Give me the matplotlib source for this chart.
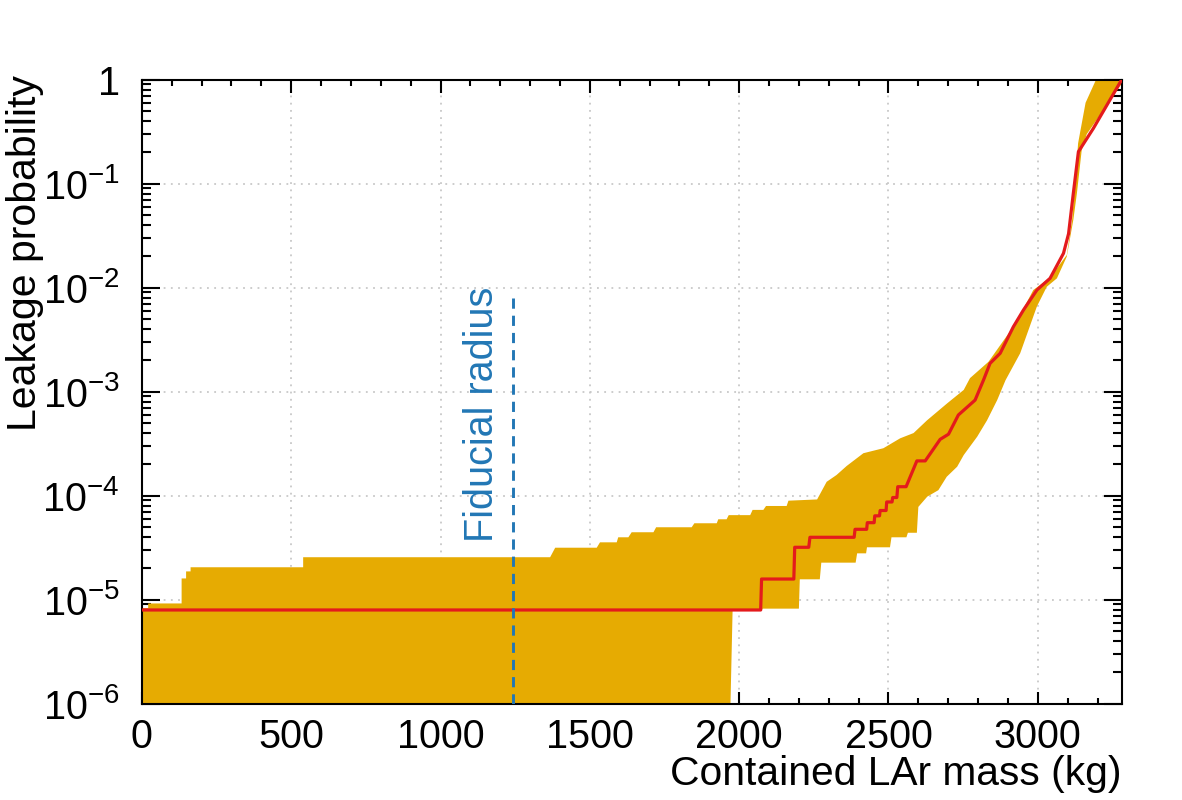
import matplotlib
matplotlib.use("Agg")
import matplotlib.pyplot as plt
import matplotlib.ticker as mticker
import numpy as np

plt.rcParams['font.family'] = ['Liberation Sans', 'DejaVu Sans']
plt.rcParams['mathtext.fontset'] = 'custom'
plt.rcParams['mathtext.rm'] = 'Liberation Sans'
plt.rcParams['mathtext.it'] = 'Liberation Sans:italic'

# upper edge of the band (x in kg, probability)
up_x = [0, 21, 21, 133, 133, 148, 148, 163, 163, 540, 540, 1367, 1384, 1523, 1534, 1590,
        1595, 1629, 1640, 1713, 1722, 1841, 1850, 1925, 1930, 1958, 1965, 2037, 2045, 2081,
        2090, 2159, 2165, 2261, 2293, 2326, 2360, 2416, 2483, 2539, 2584, 2629, 2696, 2752,
        2773, 2835, 2907, 2952, 2985, 3041, 3097, 3115, 3135, 3160, 3195, 3290]
up_y = [8.3e-6, 8.3e-6, 9.2e-6, 9.2e-6, 1.6e-5, 1.6e-5, 1.87e-5, 1.87e-5, 2.05e-5, 2.05e-5,
        2.56e-5, 2.56e-5, 3.16e-5, 3.16e-5, 3.56e-5, 3.56e-5, 3.98e-5, 3.98e-5, 4.45e-5,
        4.45e-5, 4.97e-5, 4.97e-5, 5.43e-5, 5.43e-5, 5.93e-5, 5.93e-5, 6.5e-5, 6.5e-5, 7.3e-5,
        7.3e-5, 7.96e-5, 7.96e-5, 8.95e-5, 9.2e-5, 1.36e-4, 1.58e-4, 1.93e-4, 2.56e-4, 2.86e-4,
        3.56e-4, 4.0e-4, 5.3e-4, 7.7e-4, 1.04e-3, 1.35e-3, 1.94e-3, 3.8e-3, 6.3e-3, 9.5e-3,
        1.25e-2, 2.06e-2, 4.5e-2, 0.245, 0.6, 1.0, 1.0]

# lower edge of the band
lo_x = [0, 1963, 1978, 2075, 2079, 2200, 2203, 2270, 2275, 2390, 2395, 2425, 2428, 2505,
        2510, 2560, 2565, 2595, 2600, 2630, 2667, 2695, 2730, 2752, 2797, 2830, 2864, 2892,
        2941, 2997, 3030, 3064, 3097, 3119, 3131, 3147, 3164, 3220, 3290]
lo_y = [1e-7, 1e-7, 7.9e-6, 7.9e-6, 8.2e-6, 8.2e-6, 1.57e-5, 1.57e-5, 2.27e-5, 2.27e-5,
        2.79e-5, 2.79e-5, 3.19e-5, 3.19e-5, 3.98e-5, 3.98e-5, 4.4e-5, 4.4e-5, 7.8e-5, 9.8e-5,
        1.13e-4, 1.52e-4, 1.9e-4, 2.46e-4, 3.69e-4, 5.3e-4, 8.3e-4, 1.29e-3, 2.34e-3, 6.6e-3,
        1.02e-2, 1.23e-2, 1.99e-2, 0.045, 0.081, 0.21, 0.30, 0.51, 1.0]

# central curve
mid_x = [0, 2072, 2075, 2183, 2186, 2233, 2237, 2385, 2388, 2427, 2429, 2452, 2454, 2470,
         2472, 2492, 2494, 2512, 2514, 2528, 2531, 2559, 2595, 2623, 2673, 2701, 2734, 2790,
         2818, 2840, 2874, 2918, 2952, 2997, 3041, 3086, 3103, 3119, 3136, 3186, 3281]
mid_y = [7.96e-6, 7.96e-6, 1.58e-5, 1.58e-5, 3.19e-5, 3.19e-5, 3.98e-5, 3.98e-5, 4.75e-5,
         4.75e-5, 5.5e-5, 5.5e-5, 6.4e-5, 6.4e-5, 7.2e-5, 7.2e-5, 8.7e-5, 8.7e-5, 9.6e-5,
         9.6e-5, 1.22e-4, 1.22e-4, 2.16e-4, 2.16e-4, 3.48e-4, 3.9e-4, 5.97e-4, 8.3e-4,
         1.29e-3, 1.87e-3, 2.34e-3, 4.2e-3, 6.1e-3, 9.5e-3, 1.23e-2, 2.14e-2, 3.3e-2, 0.081,
         0.203, 0.34, 1.0]

fiducial_mass = 1243
fiducial_top = 8.2e-3

band_col = '#e6ab02'
red_col = '#e41a1c'
blue_col = '#2277b5'

fig = plt.figure(figsize=(11.82, 8), dpi=100)
ax = fig.add_axes([0.12005, 0.1204, 0.8292, 0.78])

ax.fill(np.concatenate([up_x, lo_x[::-1]]), np.concatenate([up_y, lo_y[::-1]]),
        color=band_col, lw=0, zorder=2)
ax.plot(mid_x, mid_y, color=red_col, lw=2.3, zorder=3)
ax.plot([fiducial_mass, fiducial_mass], [1e-6, fiducial_top], color=blue_col, lw=2.1,
        linestyle=(0, (3.5, 2.4)), zorder=4)
ax.text(1139, 3.6e-5, 'Fiducial radius', rotation=90, ha='center', va='bottom',
        color=blue_col, fontsize=28.5, zorder=5)

ax.set_yscale('log')
ax.set_xlim(0, 3282)
ax.set_ylim(1e-6, 1)

ax.xaxis.set_major_locator(mticker.MultipleLocator(500))
ax.xaxis.set_minor_locator(mticker.MultipleLocator(100))
ax.yaxis.set_major_locator(mticker.FixedLocator([10.0 ** k for k in range(-6, 1)]))
ax.yaxis.set_minor_locator(mticker.LogLocator(base=10, subs=np.arange(2, 10), numticks=20))
ax.yaxis.set_minor_formatter(mticker.NullFormatter())
ylabels = ['$10^{%d}$' % k for k in range(-6, 0)] + ['1']
ax.set_yticklabels(ylabels)

ax.grid(True, which='major', color='#c8c8c8', linestyle=(0, (1, 3)), lw=1.3, zorder=1)
ax.set_axisbelow(True)

ax.tick_params(axis='both', which='both', direction='in', top=True, right=True,
               labelsize=28.5, width=1.5, colors='black')
ax.tick_params(axis='x', which='major', length=9, pad=10)
ax.tick_params(axis='x', which='minor', length=4.5)
ax.tick_params(axis='y', which='major', length=13, pad=16)
ax.tick_params(axis='y', which='minor', length=6.5)
for s in ax.spines.values():
    s.set_linewidth(1.5)

fig.text(1122 / 1182, 0.019, 'Contained LAr mass (kg)', ha='right', va='baseline', fontsize=29.3)
fig.text(25 / 1182, 1 - 75 / 800, 'Leakage probability', rotation=90, ha='center', va='top',
         fontsize=29.5)

fig.savefig('out.png', dpi=100)
